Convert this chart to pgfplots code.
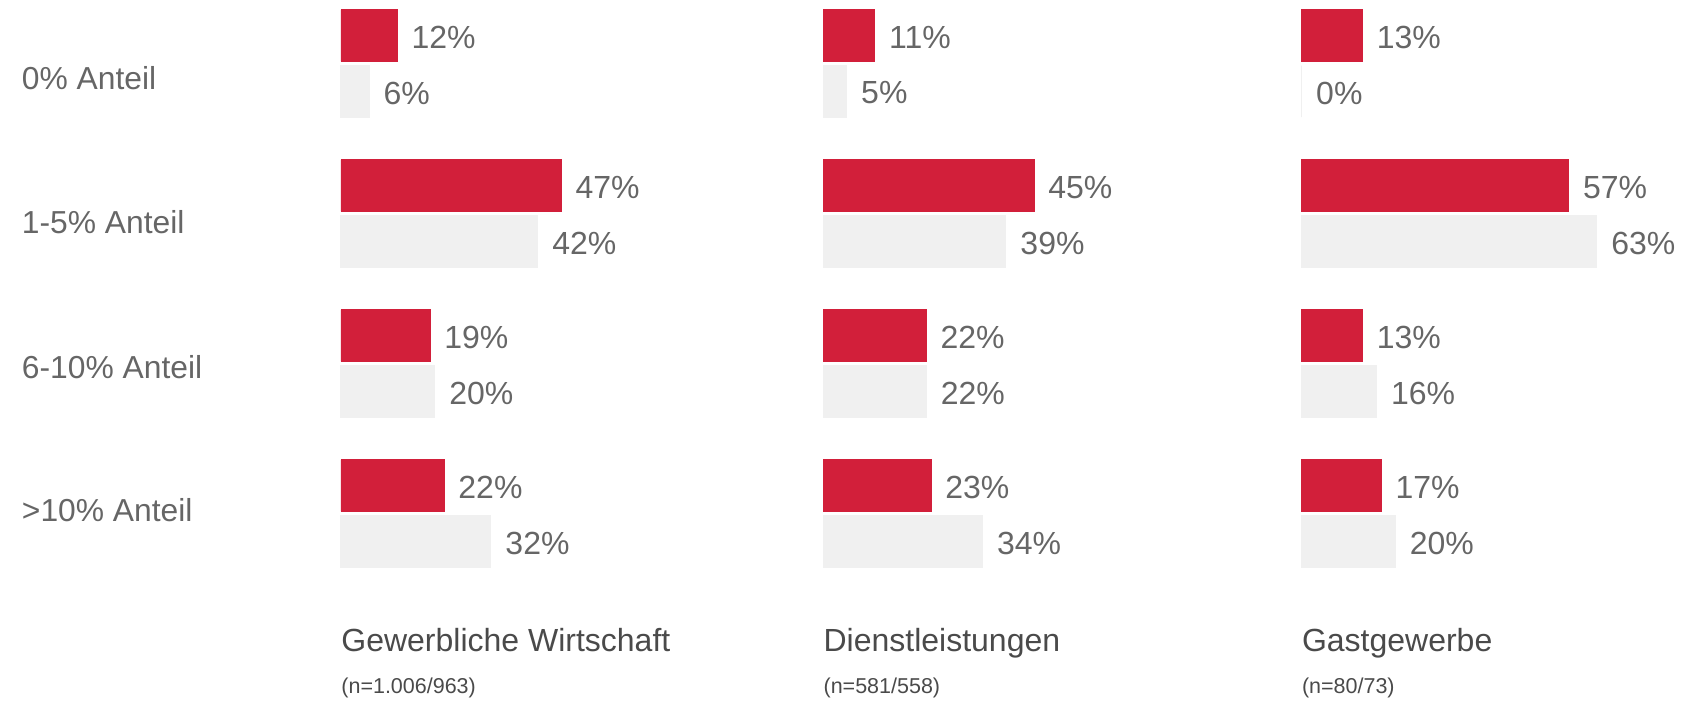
\documentclass[border=0pt]{standalone}
\usepackage{fontspec}
\setmainfont{Liberation Sans}
\usepackage{pgfplots}
\pgfplotsset{compat=1.18}

\definecolor{barred}{HTML}{D21F3A}
\definecolor{bargrey}{HTML}{F0F0F0}
\definecolor{labelgrey}{HTML}{666666}
\definecolor{titlegrey}{HTML}{4A4A4A}

\newcommand{\bigfont}{\fontsize{16}{19}\selectfont}
\newcommand{\catfont}{\fontsize{15.9}{19}\selectfont}
\newcommand{\titlefont}{\fontsize{16}{19}\selectfont}
\newcommand{\smallfont}{\fontsize{10.75}{13}\selectfont}

\pgfplotsset{
  panel/.style={
    xbar, scale only axis, hide axis, clip=false,
    width=234.2pt, height=300pt,
    xmin=0, xmax=100, ymin=-0.5, ymax=3.5,
    anchor=south west,
    bar width=25.7pt,
    /pgf/number format/assume math mode=true,
    nodes near coords={\pgfmathprintnumber{\pgfplotspointmeta}\%},
    every node near coord/.append style={anchor=west, inner sep=0pt,
      xshift=7pt, yshift=-0.8pt, font=\bigfont, text=labelgrey},
  },
  red bars/.style={fill=barred, draw=barred, line width=0.4pt, bar shift=13.95pt},
  grey bars/.style={fill=bargrey, draw=bargrey, line width=0.6pt, bar shift=-13.95pt},
}

\begin{document}
\begin{tikzpicture}
\path[use as bounding box] (0,0) rectangle (840.5pt,350.5pt);

% Gewerbliche Wirtschaft
\begin{axis}[panel, at={(170.5pt,56.25pt)}]
\addplot[red bars] coordinates {(12,3) (47,2) (19,1) (22,0)};
\addplot[grey bars] coordinates {(6,3) (42,2) (20,1) (32,0)};
\node[anchor=west, inner sep=0pt, font=\catfont, text=labelgrey] at (axis cs:-68.2,2.90) {0\% Anteil};
\node[anchor=west, inner sep=0pt, font=\catfont, text=labelgrey] at (axis cs:-68.2,1.944) {1-5\% Anteil};
\node[anchor=west, inner sep=0pt, font=\catfont, text=labelgrey] at (axis cs:-68.2,0.979) {6-10\% Anteil};
\node[anchor=west, inner sep=0pt, font=\catfont, text=labelgrey] at (axis cs:-68.2,0.021) {>10\% Anteil};
\node[anchor=base west, inner sep=0pt, font=\titlefont, text=titlegrey] at (axis cs:0,-0.922) {Gewerbliche Wirtschaft};
\node[anchor=base west, inner sep=0pt, font=\smallfont, text=titlegrey] at (axis cs:0,-1.197) {(n=1.006/963)};
\end{axis}

% Dienstleistungen
\begin{axis}[panel, at={(411.6pt,56.25pt)}]
\addplot[red bars] coordinates {(11,3) (45,2) (22,1) (23,0)};
\addplot[grey bars] coordinates {(5,3) (39,2) (22,1) (34,0)};
\node[anchor=base west, inner sep=0pt, font=\titlefont, text=titlegrey] at (axis cs:0,-0.922) {Dienstleistungen};
\node[anchor=base west, inner sep=0pt, font=\smallfont, text=titlegrey] at (axis cs:0,-1.197) {(n=581/558)};
\end{axis}

% Gastgewerbe
\begin{axis}[panel, at={(650.8pt,56.25pt)}]
\addplot[red bars] coordinates {(13,3) (57,2) (13,1) (17,0)};
\addplot[grey bars] coordinates {(0,3) (63,2) (16,1) (20,0)};
\node[anchor=base west, inner sep=0pt, font=\titlefont, text=titlegrey] at (axis cs:0,-0.922) {Gastgewerbe};
\node[anchor=base west, inner sep=0pt, font=\smallfont, text=titlegrey] at (axis cs:0,-1.197) {(n=80/73)};
\end{axis}
\end{tikzpicture}
\end{document}
